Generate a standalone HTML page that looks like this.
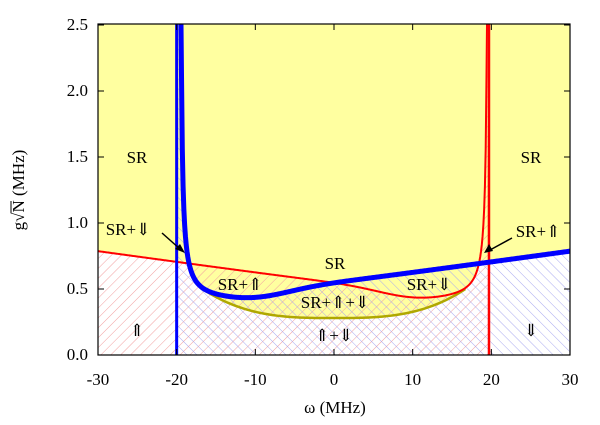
<!DOCTYPE html>
<html><head><meta charset="utf-8"><style>
html,body{margin:0;padding:0;background:#fff;}
svg, svg text{font-family:"Liberation Serif","Times New Roman","DejaVu Serif",serif;}
svg text{font-size:17px;fill:#000;}
</style></head><body>
<svg id="s" width="600" height="420" xmlns="http://www.w3.org/2000/svg" font-family="Liberation Serif, DejaVu Serif, serif">
<defs>
<pattern id="pk" width="7" height="7" patternUnits="userSpaceOnUse" patternTransform="rotate(45)">
<line x1="0" y1="0" x2="0" y2="7" stroke="#f2a0a0" stroke-width="1"/></pattern>
<pattern id="bl" width="7" height="7" patternUnits="userSpaceOnUse" patternTransform="rotate(-45)">
<line x1="0" y1="0" x2="0" y2="7" stroke="#aaaaf0" stroke-width="1"/></pattern>
<clipPath id="cp"><rect x="98" y="24" width="472" height="331"/></clipPath>
</defs>
<g id="plot" clip-path="url(#cp)"></g>
<rect x="98" y="24" width="472" height="331" fill="none" stroke="#000" stroke-width="1.2"/>
<g id="ticks"></g>
<text x="335" y="413" text-anchor="middle">ω (MHz)</text>
<g transform="translate(24,190) rotate(-90)"><text x="0" y="0" text-anchor="middle">g√N (MHz)</text><line x1="-23" y1="-13" x2="-11" y2="-13" stroke="#000" stroke-width="1"/></g>
<text x="137" y="163" text-anchor="middle">SR</text>
<text x="531" y="163" text-anchor="middle">SR</text>
<text x="335" y="269" text-anchor="middle">SR</text>
<text x="128" y="235" text-anchor="middle">SR+⇓</text>
<text x="538" y="237" text-anchor="middle">SR+⇑</text>
<text x="240" y="290" text-anchor="middle">SR+⇑</text>
<text x="429" y="290" text-anchor="middle">SR+⇓</text>
<text x="335" y="308" text-anchor="middle">SR+⇑+⇓</text>
<text x="334" y="341" text-anchor="middle">⇑+⇓</text>
<text x="137" y="336" text-anchor="middle">⇑</text>
<text x="531" y="336" text-anchor="middle">⇓</text>
<line x1="162" y1="233" x2="180" y2="249" stroke="#000" stroke-width="1.5"/>
<polygon points="185,253 175,249 180,244" fill="#000"/>
<line x1="512" y1="238" x2="490" y2="250" stroke="#000" stroke-width="1.5"/>
<polygon points="484,253 489,244 493,251" fill="#000"/>
</svg>
<script>
var X=function(w){return 334+w*7.867}, Y=function(g){return 355-132*g};
function red(w){var d=19.6-w; if(d<=0.01)d=0.01; var b=(w-10)/6; return 0.53-0.0083*w+0.38/d-0.05*Math.exp(-b*b);}
function blue(w){return red(-w);}
function olive(w){var r=Math.abs(w)/16.7;return 0.28+0.22*Math.pow(r,3);}
var c=-18.3;for(var w=-19.5;w<-15;w+=0.001){if(blue(w)<red(w)){c=w;break;}}
var o=16.7;
function path(f,a,b,n){var s='';for(var i=0;i<=n;i++){var w=a+(b-a)*i/n;var g=Math.min(f(w),2.7);s+=(i?'L':'M')+X(w).toFixed(2)+','+Y(g).toFixed(2);}return s;}
function pts(f,a,b,n){var s='';for(var i=0;i<=n;i++){var w=a+(b-a)*i/n;var g=Math.min(f(w),2.7);s+='L'+X(w).toFixed(2)+','+Y(g).toFixed(2);}return s;}
var h='';
var yl='M98,24'+pts(red,-30,c,60)+pts(blue,c,-o,20)+pts(olive,-o,o,120)+pts(red,o,-c,20)+pts(blue,-c,30,60)+'L570,24Z';
h+='<rect x="98" y="24" width="472" height="331" fill="#fff"/>';
h+='<path d="'+yl+'" fill="#ffffa0"/>';
h+='<path d="'+path(red,-30,19.55,400)+'L'+X(19.55)+',20L'+X(19.7)+',20L'+X(19.7)+',355L98,355Z" fill="url(#pk)"/>';
h+='<path d="'+path(blue,30,-19.55,400)+'L'+X(-19.55)+',20L'+X(-20)+',20L'+X(-20)+',355L570,355Z" fill="url(#bl)"/>';
h+='<path d="'+path(olive,-o,o,120)+'" fill="none" stroke="#b0a800" stroke-width="2.5"/>';
h+='<path d="'+path(red,-30,19.58,500)+'" fill="none" stroke="#f00" stroke-width="2"/>';
h+='<line x1="'+X(19.7)+'" y1="20" x2="'+X(19.7)+'" y2="356" stroke="#f00" stroke-width="2.5"/>';
h+='<line x1="'+X(-20)+'" y1="20" x2="'+X(-20)+'" y2="356" stroke="#00f" stroke-width="3"/>';
h+='<path d="'+path(blue,-19.58,30,500)+'" fill="none" stroke="#00f" stroke-width="5"/>';
document.getElementById('plot').innerHTML=h;
var t='';
for(var i=0;i<=5;i++){var g=i*0.5,y=Y(g);t+='<line x1="98" y1="'+y+'" x2="104" y2="'+y+'" stroke="#000"/><line x1="564" y1="'+y+'" x2="570" y2="'+y+'" stroke="#000"/><text x="88" y="'+(y+5)+'" text-anchor="end">'+g.toFixed(1)+'</text>';}
for(var w=-30;w<=30;w+=10){var x=X(w);t+='<line x1="'+x+'" y1="355" x2="'+x+'" y2="349" stroke="#000"/><line x1="'+x+'" y1="24" x2="'+x+'" y2="30" stroke="#000"/><text x="'+x+'" y="385" text-anchor="middle">'+w+'</text>';}
document.getElementById('ticks').innerHTML=t;
</script>
</body></html>
